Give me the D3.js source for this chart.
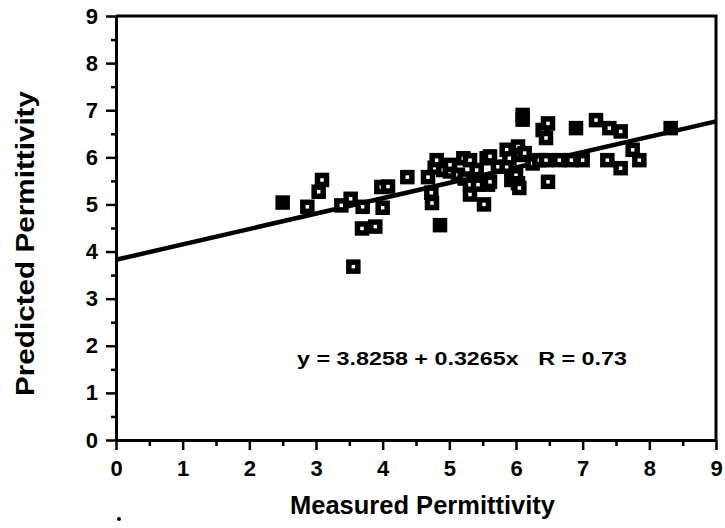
<!DOCTYPE html>
<html>
<head>
<meta charset="utf-8">
<script src="https://cdn.jsdelivr.net/npm/d3@7"></script>
<style>
  html, body { margin: 0; padding: 0; background: #fff; }
  svg { display: block; }
  text { font-family: "Liberation Sans", Arial, Helvetica, sans-serif; font-weight: bold; fill: #000; }
</style>
</head>
<body>
<svg id="chart" width="725" height="528"></svg>
<script>
// ---- data ----
const xTicks = [0, 1, 2, 3, 4, 5, 6, 7, 8, 9];
const yTicks = [0, 1, 2, 3, 4, 5, 6, 7, 8, 9];
const minorTicks = [0.5, 1.5, 2.5, 3.5, 4.5, 5.5, 6.5, 7.5, 8.5];

const openX = [2.87, 3.04, 3.09, 3.38, 3.52, 3.56, 3.70, 3.69, 3.89, 4.00, 3.98, 4.08, 4.37,
  4.68, 4.73, 4.74, 4.78, 4.81, 4.91, 5.01, 5.01, 5.13, 5.21, 5.23, 5.31, 5.31, 5.31,
  5.43, 5.41, 5.52, 5.56, 5.58, 5.61, 5.61, 5.73, 5.86, 5.86, 5.90, 5.93, 6.00, 6.03,
  6.05, 6.03, 6.05, 6.13, 6.25, 6.35, 6.40, 6.45, 6.48, 6.45, 6.48, 6.65, 6.83, 7.00,
  7.20, 7.37, 7.40, 7.57, 7.57, 7.75, 7.85];
const openY = [4.95, 5.27, 5.52, 4.98, 5.12, 3.68, 4.95, 4.49, 4.53, 4.93, 5.37, 5.38, 5.58,
  5.58, 5.25, 5.03, 5.78, 5.94, 5.73, 5.70, 5.84, 5.63, 5.98, 5.55, 5.94, 5.42, 5.21,
  5.42, 5.73, 5.00, 5.98, 5.42, 5.48, 6.02, 5.80, 6.16, 5.80, 5.98, 5.52, 5.62, 5.45,
  5.35, 6.23, 6.05, 6.09, 5.87, 5.94, 6.58, 6.41, 6.72, 5.94, 5.48, 5.94, 5.94, 5.94,
  6.79, 5.94, 6.62, 6.55, 5.77, 6.16, 5.94];
const solidX = [2.50, 4.86, 6.10, 6.10, 6.90, 8.32];
const solidY = [5.04, 4.56, 6.90, 6.80, 6.62, 6.62];

const intercept = 3.8258;
const slope = 0.3265;
const equationLabel = "y = 3.8258 + 0.3265x   R = 0.73";
const xTitle = "Measured Permittivity";
const yTitle = "Predicted Permittivity";

// ---- drawing ----
const svg = d3.select("#chart");
const x = d3.scaleLinear().domain([0, 9]).range([116, 716]);
const y = d3.scaleLinear().domain([0, 9]).range([440, 16]);

// frame (top & right)
svg.append("path")
  .attr("d", `M${x(0)},${y(9)}H${x(9)}V${y(0)}`)
  .attr("fill", "none").attr("stroke", "#000").attr("stroke-width", 3);

function styleAxis(g) {
  g.selectAll(".domain").attr("stroke", "#000").attr("stroke-width", 3);
  g.selectAll(".tick line").attr("stroke", "#000").attr("stroke-width", 2.5);
  g.selectAll(".tick text").style("font-size", "22px").style("font-weight", "bold")
    .style("font-family", '"Liberation Sans", Arial, sans-serif');
}

// x axis
const gx = svg.append("g").attr("transform", `translate(0,${y(0)})`);
gx.call(d3.axisBottom(x).tickValues(xTicks).tickFormat(d3.format("d")).tickSize(10).tickPadding(10).tickSizeOuter(0));
styleAxis(gx);
const gxm = svg.append("g").attr("transform", `translate(0,${y(0)})`);
gxm.call(d3.axisBottom(x).tickValues(minorTicks).tickFormat("").tickSize(6).tickSizeOuter(0));
styleAxis(gxm);
gxm.select(".domain").remove();

// y axis
const gy = svg.append("g").attr("transform", `translate(${x(0)},0)`);
gy.call(d3.axisLeft(y).tickValues(yTicks).tickFormat(d3.format("d")).tickSize(10).tickPadding(8).tickSizeOuter(0));
styleAxis(gy);
const gym = svg.append("g").attr("transform", `translate(${x(0)},0)`);
gym.call(d3.axisLeft(y).tickValues(minorTicks).tickFormat("").tickSize(5).tickSizeOuter(0));
styleAxis(gym);
gym.select(".domain").remove();

// regression line
svg.append("line")
  .attr("x1", x(0)).attr("y1", y(intercept))
  .attr("x2", x(9)).attr("y2", y(intercept + slope * 9))
  .attr("stroke", "#000").attr("stroke-width", 4.5);

// markers
const s = 9;
const openPts = openX.map((d, i) => [d, openY[i]]);
svg.append("g").selectAll("rect").data(openPts).join("rect")
  .attr("x", d => x(d[0]) - s / 2).attr("y", d => y(d[1]) - s / 2)
  .attr("width", s).attr("height", s)
  .attr("fill", "#fff").attr("stroke", "#000").attr("stroke-width", 5.5);

const solidPts = solidX.map((d, i) => [d, solidY[i]]);
svg.append("g").selectAll("rect").data(solidPts).join("rect")
  .attr("x", d => x(d[0]) - s / 2).attr("y", d => y(d[1]) - s / 2)
  .attr("width", s).attr("height", s)
  .attr("fill", "#000").attr("stroke", "#000").attr("stroke-width", 5.5);

// equation
svg.append("text").attr("x", 297).attr("y", 365)
  .attr("xml:space", "preserve").style("white-space", "pre")
  .attr("textLength", 330).attr("lengthAdjust", "spacingAndGlyphs")
  .style("font-size", "19px").text(equationLabel);

// axis titles
svg.append("text").attr("x", 290).attr("y", 514)
  .attr("textLength", 265).attr("lengthAdjust", "spacingAndGlyphs")
  .style("font-size", "25px").text(xTitle);
svg.append("text").attr("transform", "translate(34,396) rotate(-90)")
  .attr("textLength", 305).attr("lengthAdjust", "spacingAndGlyphs")
  .style("font-size", "25px").text(yTitle);

// small scan dot
svg.append("circle").attr("cx", 119).attr("cy", 519).attr("r", 2).attr("fill", "#000");
</script>
</body>
</html>
